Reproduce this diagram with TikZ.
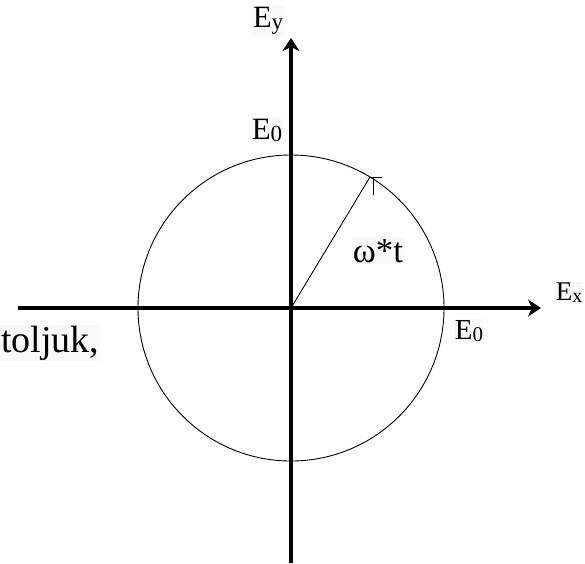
\documentclass[tikz,border=0pt]{standalone}
\usepackage{fontspec}
\setmainfont{Liberation Serif}
\usetikzlibrary{arrows.meta,positioning}

\begin{document}
\begin{tikzpicture}[
  x=1pt, y=-1pt,
  axis/.style={line width=3.5pt, -{Stealth[length=13pt,width=17pt,inset=4pt]}},
  rim/.style={line width=0.9pt},
  lbl/.style={fill=gray!5, inner sep=1pt, font=\fontsize{31}{31}\selectfont}
]
\useasboundingbox (0,0) rectangle (585,563);
\coordinate (O) at (291,308);
\coordinate (left) at (18,308);
\coordinate (right) at (541,308);
\coordinate (top) at (291,38);
\coordinate (bottom) at (291,563);
\coordinate (tip) at (370,177);

\draw[rim] (O) circle[radius=153pt];
\draw[axis] (left) -- (right);
\draw[axis] (bottom) -- (top);

% rotating vector
\draw[rim] (O) -- (tip);
\draw[rim] (tip) -- ++(12,0);
\draw[rim] ([xshift=3pt]tip) -- ++(0,18);

\node[lbl] (ey) at (268,21) {E\raisebox{-2pt}{\fontsize{23}{23}\selectfont y}};
\node[lbl] (e0top) at (267,130) {E\raisebox{-2pt}{\fontsize{23}{23}\selectfont 0}};
\node[lbl, font=\fontsize{27}{27}\selectfont] (ex) at (569,293) {E\raisebox{-2pt}{\fontsize{20}{20}\selectfont x}};
\node[lbl, font=\fontsize{29}{29}\selectfont] (e0right) at (469,331) {E\raisebox{-2pt}{\fontsize{21}{21}\selectfont 0}};
\node[lbl, font=\fontsize{35}{35}\selectfont] (wt) at (378,251) {ω*t};
\node[lbl, font=\fontsize{38}{38}\selectfont, anchor=west] (cut) at (0,343) {toljuk,};
\end{tikzpicture}
\end{document}
